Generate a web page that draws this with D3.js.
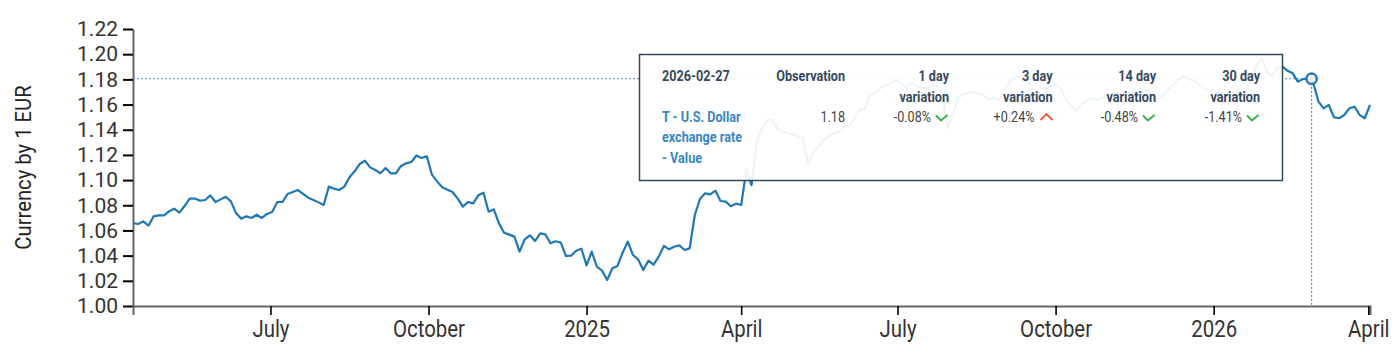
<!DOCTYPE html>
<html><head><meta charset="utf-8">
<script src="https://cdn.jsdelivr.net/npm/d3@7"></script>
<style>
html,body{margin:0;padding:0;background:#fff;}
svg{display:block;font-family:Roboto, "Noto Sans", sans-serif;}
</style></head><body>
<svg id="chart" width="1395" height="355"></svg>
<script>
// ---------- DATA ----------
const startDate = "2024-04-12";
const stepDays = 3;
const values = [
1.0659,1.0651,1.0672,1.0638,1.0712,1.0720,1.0720,1.0752,1.0773,1.0741,
1.0794,1.0853,1.0853,1.0837,1.0842,1.0879,1.0826,1.0847,1.0868,1.0831,
1.0736,1.0694,1.0712,1.0699,1.0725,1.0699,1.0731,1.0747,1.0826,1.0826,
1.0890,1.0905,1.0921,1.0890,1.0860,1.0842,1.0823,1.0802,1.0948,1.0932,
1.0921,1.0948,1.1022,1.1070,1.1128,1.1154,1.1101,1.1080,1.1054,1.1096,
1.1054,1.1054,1.1112,1.1133,1.1144,1.1195,1.1175,1.1190,1.1043,1.0990,
1.0943,1.0924,1.0905,1.0853,1.0789,1.0826,1.0815,1.0879,1.0900,1.0749,
1.0768,1.0657,1.0582,1.0567,1.0551,1.0432,1.0530,1.0561,1.0516,1.0577,
1.0569,1.0498,1.0514,1.0503,1.0397,1.0400,1.0439,1.0455,1.0323,1.0432,
1.0312,1.0281,1.0207,1.0299,1.0318,1.0424,1.0511,1.0405,1.0371,1.0286,
1.0360,1.0328,1.0392,1.0477,1.0450,1.0471,1.0482,1.0445,1.0458,1.0723,
1.0850,1.0895,1.0887,1.0916,1.0834,1.0829,1.0792,1.0813,1.0802,1.1080,
1.0960,1.1300,1.1411,1.1472,1.1480,1.1411,1.1385,1.1371,1.1364,1.1350,
1.1340,1.1125,1.1226,1.1271,1.1318,1.1353,1.1371,1.1385,1.1424,1.1430,
1.1491,1.1557,1.1562,1.1676,1.1694,1.1729,1.1755,1.1769,1.1795,1.1769,
1.1737,1.1769,1.1747,1.1729,1.1729,1.1755,1.1742,1.1694,1.1410,1.1517,
1.1642,1.1684,1.1689,1.1702,1.1689,1.1676,1.1636,1.1657,1.1636,1.1700,
1.1780,1.1810,1.1820,1.1800,1.1760,1.1763,1.1742,1.1721,1.1742,1.1761,
1.1729,1.1642,1.1589,1.1549,1.1597,1.1631,1.1647,1.1636,1.1657,1.1655,
1.1642,1.1668,1.1697,1.1689,1.1689,1.1700,1.1710,1.1710,1.1663,1.1642,
1.1676,1.1729,1.1763,1.1803,1.1822,1.1800,1.1784,1.1755,1.1724,1.1708,
1.1689,1.1649,1.1668,1.1673,1.1663,1.1681,1.1729,1.1808,1.1914,1.1967,
1.1861,1.1827,1.1888,1.1901,1.1869,1.1848,1.1782,1.1803,1.1806,1.1769,
1.1623,1.1570,1.1597,1.1499,1.1491,1.1517,1.1570,1.1583,1.1517,1.1491,
1.1597
];
const yTicks = [1.00,1.02,1.04,1.06,1.08,1.10,1.12,1.14,1.16,1.18,1.20,1.22];
const xTickDates = ["2024-07-01","2024-10-01","2025-01-01","2025-04-01","2025-07-01","2025-10-01","2026-01-01","2026-04-01"];
const xTickLabels = ["July","October","2025","April","July","October","2026","April"];
const yAxisTitle = "Currency by 1 EUR";

const tooltipDate = "2026-02-27";
const tooltipValue = 1.1805;
const tooltipSeries = ["T - U.S. Dollar","exchange rate","- Value"];
const tooltipHeaders = [["Observation"],["1 day","variation"],["3 day","variation"],["14 day","variation"],["30 day","variation"]];
const tooltipCells = ["1.18","-0.08%","+0.24%","-0.48%","-1.41%"];
const tooltipDirections = ["none","down","up","down","down"];

// ---------- CHART ----------
(function(){
const svg = d3.select("#chart");
const parse = d3.timeParse("%Y-%m-%d");
const t0 = parse(startDate);
const data = values.map((v,i)=>({date:d3.timeDay.offset(t0, i*stepDays), value:v}));

const mLeft = 133, mRight = 1370, mTop = 29, mBottom = 306;
const x = d3.scaleTime().domain(d3.extent(data,d=>d.date)).range([mLeft,mRight]);
const y = d3.scaleLinear().domain([1.00,1.22]).range([mBottom,mTop]);

function condense(sel,k){
  sel.each(function(){
    const w=this.getComputedTextLength();
    this.setAttribute("textLength", (w*k).toFixed(2));
    this.setAttribute("lengthAdjust","spacingAndGlyphs");
  });
}

// y axis
const gy = svg.append("g").attr("transform",`translate(${mLeft},0)`)
  .call(d3.axisLeft(y).tickValues(yTicks).tickFormat(d3.format(".2f")).tickSize(10).tickSizeOuter(0).tickPadding(5));
gy.attr("font-family","Roboto").attr("font-size",21);
gy.select(".domain").attr("stroke","#666").attr("stroke-width",2);
gy.selectAll(".tick line").attr("stroke","#000").attr("stroke-width",2);
gy.selectAll(".tick text").attr("fill","#333");

// x axis
const gx = svg.append("g").attr("transform",`translate(0,${mBottom})`)
  .call(d3.axisBottom(x).tickValues(xTickDates.map(parse)).tickFormat((d,i)=>xTickLabels[i]).tickSize(9).tickSizeOuter(9).tickPadding(5));
gx.attr("font-family","Roboto").attr("font-size",24);
gx.select(".domain").attr("stroke","#666").attr("stroke-width",2);
gx.selectAll(".tick line").attr("stroke","#000").attr("stroke-width",1.6);
gx.selectAll(".tick text").attr("fill","#333");
condense(gx.selectAll(".tick text"),0.85);

// y title
const yt = svg.append("text").attr("transform",`translate(31,${(mTop+mBottom)/2}) rotate(-90)`)
  .attr("text-anchor","middle").attr("font-size",22).attr("fill","#222").text(yAxisTitle);
condense(yt,0.92);

// line
svg.append("path").datum(data)
  .attr("fill","none").attr("stroke","#1f77b4").attr("stroke-width",2.2).attr("stroke-linejoin","round")
  .attr("d", d3.line().x(d=>x(d.date)).y(d=>y(d.value)));

// crosshair
const px = x(parse(tooltipDate)), py = y(tooltipValue);
svg.append("line").attr("x1",mLeft).attr("x2",px).attr("y1",py).attr("y2",py)
  .attr("stroke","#3d8fd1").attr("stroke-width",1.2).attr("stroke-dasharray","2,2");
svg.append("line").attr("x1",px).attr("x2",px).attr("y1",py).attr("y2",mBottom)
  .attr("stroke","#3d8fd1").attr("stroke-width",1.2).attr("stroke-dasharray","2,2");

// tooltip
const tip = svg.append("g");
tip.append("rect").attr("x",639.5).attr("y",54.5).attr("width",643).attr("height",126)
  .attr("fill","#fff").attr("fill-opacity",0.92).attr("stroke","#2f4a5f").attr("stroke-width",1.5);
const fs = 14.5, k = 0.87;
const rows = [81,101.5,121.5,142,162.5];
const colRight = [845,949,1052.5,1156,1260];
const dt = tip.append("text").attr("x",662).attr("y",rows[0]).attr("font-size",fs).attr("font-weight","bold")
  .attr("fill","#34495e").text(tooltipDate);
condense(dt,k);
tooltipSeries.forEach((s,i)=>{
  const t = tip.append("text").attr("x",662).attr("y",rows[2+i]).attr("font-size",fs).attr("font-weight","bold")
    .attr("fill","#3a86c4").text(s);
  condense(t,k);
});
tooltipHeaders.forEach((lines,c)=>{
  lines.forEach((l,j)=>{
    const t = tip.append("text").attr("x",colRight[c]).attr("y",rows[j]).attr("text-anchor","end")
      .attr("font-size",fs).attr("font-weight","bold").attr("fill","#34495e").text(l);
    condense(t,k);
  });
});
tooltipCells.forEach((v,c)=>{
  const R = colRight[c];
  const hasIcon = tooltipDirections[c] !== "none";
  const t = tip.append("text").attr("x", hasIcon ? R-18 : R).attr("y",rows[2]).attr("text-anchor","end")
    .attr("font-size",fs).attr("fill","#444").text(v);
  condense(t,k);
  const yb = rows[2];
  if (tooltipDirections[c]==="down"){
    tip.append("path").attr("d",`M${R-13},${yb-6} L${R-8},${yb-1} L${R-1.5},${yb-6.5}`)
      .attr("fill","none").attr("stroke","#35b348").attr("stroke-width",1.8);
  } else if (tooltipDirections[c]==="up"){
    tip.append("path").attr("d",`M${R-12},${yb-1.5} L${R-6},${yb-7.5} L${R},${yb-1.5}`)
      .attr("fill","none").attr("stroke","#e8553f").attr("stroke-width",1.8);
  }
});

// highlight point
svg.append("circle").attr("cx",px).attr("cy",py).attr("r",5.2)
  .attr("fill","#eee").attr("stroke","#2a78b4").attr("stroke-width",2.5);
})();
</script>
</body></html>
